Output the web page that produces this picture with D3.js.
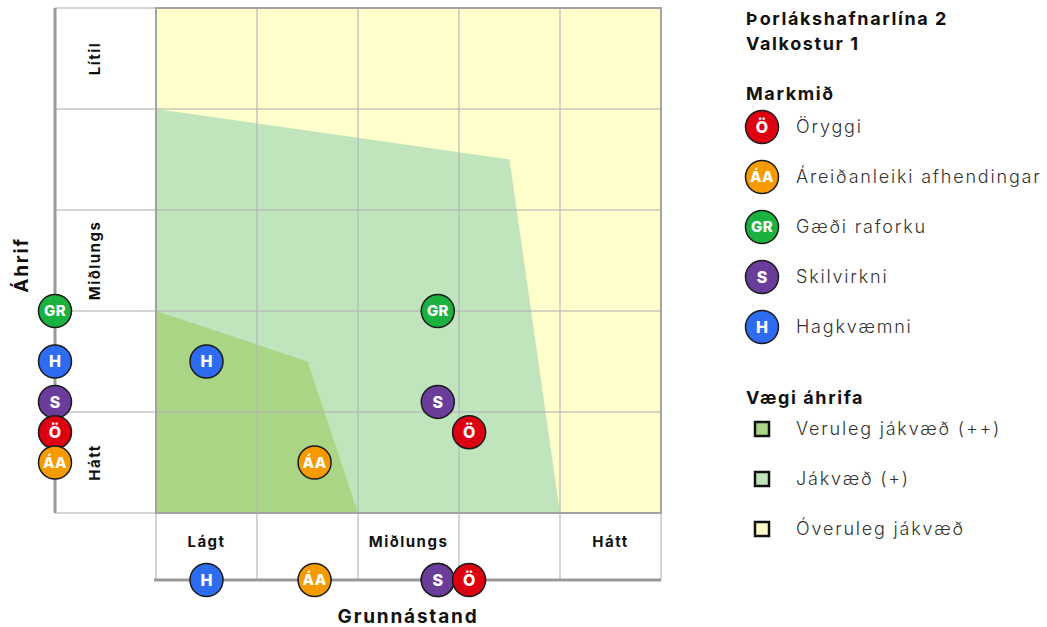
<!DOCTYPE html>
<html>
<head>
  <meta charset="utf-8">
  <title>Áhrif og grunnástand</title>
  <script src="https://d3js.org/d3.v7.min.js"></script>
  <style>
    body { margin: 0; background: #fff; }
    svg text { font-family: Inter, "Open Sans", sans-serif; }
    .grid line { stroke: #b4b4b4; stroke-opacity: .75; stroke-width: 1.5px; }
    .tick-lbl { font-weight: 700; font-size: 15px; letter-spacing: 1.5px; fill: #111; }
    .ttl { font-weight: 700; font-size: 19px; letter-spacing: 1.8px; fill: #111; }
    .lg-h { font-weight: 700; font-size: 18px; letter-spacing: 1.6px; fill: #111; }
    .lg-t { font-weight: 300; font-size: 18px; letter-spacing: 1.8px; fill: #333; }
  </style>
</head>
<body>
  <svg width="1047" height="627"></svg>
  <script>
    // markmið (goals)
    var codes = ["Ö", "ÁA", "GR", "S", "H"];
    var names = ["Öryggi", "Áreiðanleiki afhendingar", "Gæði raforku", "Skilvirkni", "Hagkvæmni"];
    var colors = ["#dd0010", "#f59b00", "#1bb13f", "#6b3d9a", "#2d6cf0"];
    var grunn = [3.1, 1.57, 2.79, 2.79, 0.5];   // x: grunnástand (0-5)
    var ahrif = [0.8, 0.5, 2.0, 1.1, 1.5];      // y: áhrif (0 = hátt, 5 = lítil)
    var drawOrder = [2, 4, 3, 0, 1];

    var xLabels = ["Lágt", "", "Miðlungs", "", "Hátt"];
    var yLabels = ["Hátt", "", "Miðlungs", "", "Lítil"];  // bottom to top

    var zoneNames = ["Veruleg jákvæð (++)", "Jákvæð (+)", "Óveruleg jákvæð"];
    var zoneColors = ["#a9d585", "#c0e4bb", "#ffffcc"];
    var strongZone = [[0, 2], [1.5, 1.5], [2, 0], [0, 0]];
    var posZone = [[0, 4], [3.5, 3.5], [4, 0], [0, 0]];

    var svg = d3.select("svg");
    var x = d3.scaleLinear().domain([0, 5]).range([156, 661]);
    var y = d3.scaleLinear().domain([0, 5]).range([513, 8]);
    var leftX = 55, bottomY = 580;

    // background + zones
    svg.append("rect").attr("x", x(0)).attr("y", y(5))
      .attr("width", x(5) - x(0)).attr("height", y(0) - y(5))
      .attr("fill", zoneColors[2]);
    var line = d3.line().x(function (d) { return x(d[0]); }).y(function (d) { return y(d[1]); });
    svg.append("path").attr("d", line(posZone) + "Z").attr("fill", zoneColors[1]);
    svg.append("path").attr("d", line(strongZone) + "Z").attr("fill", zoneColors[0]);

    // grid
    var g = svg.append("g").attr("class", "grid");
    d3.range(0, 6).forEach(function (i) {
      g.append("line").attr("x1", x(i)).attr("x2", x(i)).attr("y1", y(5)).attr("y2", bottomY);
      g.append("line").attr("x1", leftX).attr("x2", x(5)).attr("y1", y(i)).attr("y2", y(i));
    });
    // plot border
    svg.append("rect").attr("x", x(0)).attr("y", y(5))
      .attr("width", x(5) - x(0)).attr("height", y(0) - y(5))
      .attr("fill", "none").attr("stroke", "#a3a3a3").attr("stroke-width", 2);

    // axis lines
    svg.append("line").attr("x1", leftX).attr("x2", leftX).attr("y1", y(5)).attr("y2", y(0))
      .attr("stroke", "#999").attr("stroke-width", 3);
    svg.append("line").attr("x1", x(0) - 2).attr("x2", x(5)).attr("y1", bottomY).attr("y2", bottomY)
      .attr("stroke", "#999").attr("stroke-width", 3);

    // tick labels
    xLabels.forEach(function (t, i) {
      svg.append("text").attr("class", "tick-lbl").attr("x", x(i + 0.5)).attr("y", 547)
        .attr("text-anchor", "middle").text(t);
    });
    yLabels.forEach(function (t, i) {
      svg.append("text").attr("class", "tick-lbl")
        .attr("transform", "translate(100," + y(i + 0.5) + ") rotate(-90)")
        .attr("text-anchor", "middle").text(t);
    });

    // axis titles
    svg.append("text").attr("class", "ttl").attr("transform", "translate(28,265) rotate(-90)")
      .attr("text-anchor", "middle").text("Áhrif");
    svg.append("text").attr("class", "ttl").attr("x", 408).attr("y", 623)
      .attr("text-anchor", "middle").text("Grunnástand");

    function marker(cx, cy, i) {
      var m = svg.append("g").attr("transform", "translate(" + cx + "," + cy + ")");
      m.append("circle").attr("r", 16.5).attr("fill", colors[i]).attr("stroke", "#1a1a1a").attr("stroke-width", 1.5);
      m.append("text").attr("text-anchor", "middle").attr("dy", "0.36em")
        .attr("font-size", codes[i].length > 1 ? 15 : 16).attr("font-weight", 800)
        .attr("letter-spacing", codes[i].length > 1 ? 0.3 : 0)
        .attr("fill", "#fff").text(codes[i]);
    }

    // markers on axes, then in plot
    drawOrder.forEach(function (i) { marker(leftX, y(ahrif[i]), i); });
    drawOrder.forEach(function (i) { marker(x(grunn[i]), bottomY, i); });
    drawOrder.forEach(function (i) { marker(x(grunn[i]), y(ahrif[i]), i); });

    // legend
    var lx = 746;
    svg.append("text").attr("class", "lg-h").attr("x", lx).attr("y", 25).text("Þorlákshafnarlína 2");
    svg.append("text").attr("class", "lg-h").attr("x", lx).attr("y", 50).text("Valkostur 1");
    svg.append("text").attr("class", "lg-h").attr("x", lx).attr("y", 100).text("Markmið");
    codes.forEach(function (c, i) {
      var cy = 127 + i * 50;
      marker(762, cy, i);
      svg.append("text").attr("class", "lg-t").attr("x", 796).attr("y", cy + 6).text(names[i]);
    });
    svg.append("text").attr("class", "lg-h").attr("x", lx).attr("y", 404).text("Vægi áhrifa");
    zoneNames.forEach(function (n, i) {
      var cy = 429 + i * 50;
      svg.append("rect").attr("x", 755).attr("y", cy - 7).attr("width", 14).attr("height", 14)
        .attr("fill", zoneColors[i]).attr("stroke", "#111").attr("stroke-width", 2.5);
      svg.append("text").attr("class", "lg-t").attr("x", 796).attr("y", cy + 6).text(n);
    });
  </script>
</body>
</html>
